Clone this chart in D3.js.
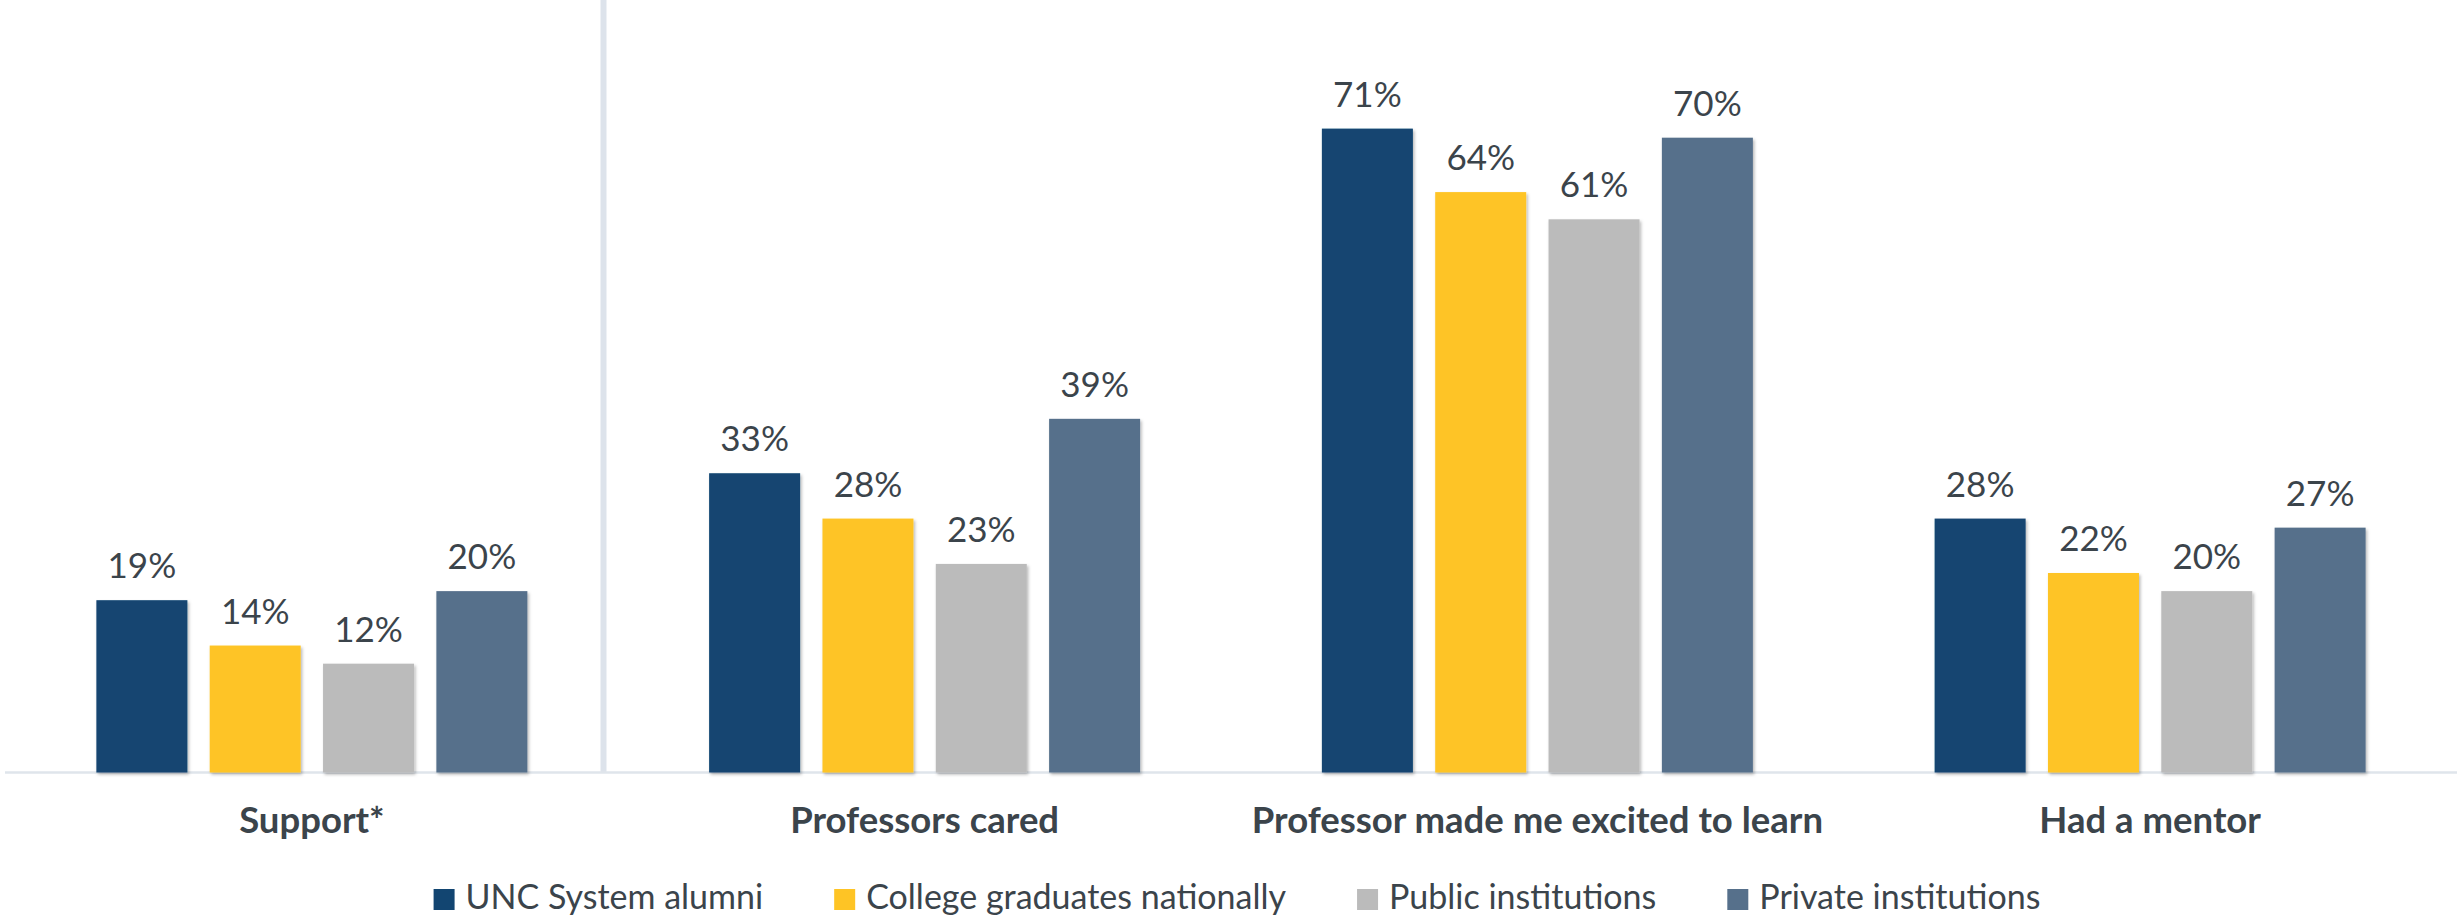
<!DOCTYPE html>
<html>
<head>
<meta charset="utf-8">
<script src="https://cdn.jsdelivr.net/npm/d3@7"></script>
<style>
  html, body { margin: 0; padding: 0; background: #ffffff; }
  svg { display: block; }
  text { font-family: Lato, "Open Sans", sans-serif; fill: #3b444b; }
</style>
</head>
<body>
<svg id="chart" width="2459" height="923"></svg>
<script>
// Survey measures shown along the x axis
const categories = ["Support*", "Professors cared", "Professor made me excited to learn", "Had a mentor"];

// Comparison groups (one bar per group within each measure)
const seriesNames = ["UNC System alumni", "College graduates nationally", "Public institutions", "Private institutions"];

// Percent agreeing, per series, in category order
const uncAlumni        = [19, 33, 71, 28];
const collegeNational  = [14, 28, 64, 22];
const publicInst       = [12, 23, 61, 20];
const privateInst      = [20, 39, 70, 27];

const seriesValues = [uncAlumni, collegeNational, publicInst, privateInst];
const colors = ["#124571", "#fec425", "#bbbbbb", "#56708b"];

const svg = d3.select("#chart");

const baseY = 772.5;
const y = d3.scaleLinear().domain([0, 80]).range([baseY, 47]);

const x0 = d3.scaleBand().domain(categories).range([5.5, 2456.5]).paddingInner(0).paddingOuter(0);
const groupWidth = 431;
const x1 = d3.scaleBand().domain(seriesNames).range([0, groupWidth]).paddingInner(0.197).paddingOuter(0);

// Soft drop shadow under the bars
const defs = svg.append("defs");
const f = defs.append("filter").attr("id", "barShadow")
  .attr("x", "-10%").attr("y", "-10%").attr("width", "125%").attr("height", "125%");
f.append("feDropShadow").attr("dx", 1.5).attr("dy", 2).attr("stdDeviation", 1.5)
  .attr("flood-color", "#000").attr("flood-opacity", 0.28);

// Vertical separator between the first measure and the rest
const dividerX = 603.5;
svg.append("line")
  .attr("x1", dividerX).attr("x2", dividerX)
  .attr("y1", 0).attr("y2", baseY)
  .attr("stroke", "#dde3eb").attr("stroke-width", 6);

// Baseline
svg.append("line")
  .attr("x1", 5).attr("x2", 2457)
  .attr("y1", baseY).attr("y2", baseY)
  .attr("stroke", "#dfe5eb").attr("stroke-width", 2.5);

// Flatten into rows for the bars
const rows = [];
categories.forEach((c, ci) => {
  seriesNames.forEach((s, si) => {
    rows.push({ cat: c, series: s, si: si, value: seriesValues[si][ci] });
  });
});

const groupOffset = c => x0(c) + x0.bandwidth() / 2 - groupWidth / 2;

const bars = svg.append("g").attr("class", "bars");
bars.selectAll("rect")
  .data(rows)
  .join("rect")
  .attr("x", d => groupOffset(d.cat) + x1(d.series))
  .attr("y", d => y(d.value))
  .attr("width", x1.bandwidth())
  .attr("height", d => baseY - y(d.value))
  .attr("fill", d => colors[d.si])
  .attr("filter", "url(#barShadow)");

// Value labels above each bar
svg.append("g").attr("class", "values")
  .selectAll("text")
  .data(rows)
  .join("text")
  .attr("x", d => groupOffset(d.cat) + x1(d.series) + x1.bandwidth() / 2)
  .attr("y", d => y(d.value) - 22)
  .attr("text-anchor", "middle")
  .style("font-size", "35px")
  .text(d => d.value + "%");

// Category axis labels
const xAxis = d3.axisBottom(x0).tickSize(0).tickPadding(0);
const axisG = svg.append("g").attr("transform", `translate(0,${baseY})`).call(xAxis);
axisG.select(".domain").remove();
axisG.selectAll(".tick text")
  .attr("y", 833 - baseY)
  .attr("dy", 0)
  .attr("fill", "#3b444b")
  .style("font-family", "Lato, 'Open Sans', sans-serif")
  .style("font-size", "36.5px")
  .style("font-weight", "700");

// Legend, centred under the plot
const legend = svg.append("g").attr("class", "legend");
const items = legend.selectAll("g").data(seriesNames).join("g");
items.append("rect")
  .attr("width", 21).attr("height", 21)
  .attr("y", 889)
  .attr("fill", (d, i) => colors[i]);
items.append("text")
  .attr("x", 32)
  .attr("y", 909)
  .style("font-size", "34px")
  .text(d => d);

let cursor = 0;
const offsets = [];
items.each(function () {
  offsets.push(cursor);
  const tw = d3.select(this).select("text").node().getComputedTextLength();
  cursor += 32 + tw + 71;
});
const totalW = cursor - 71;
const startX = 1237 - totalW / 2;
items.attr("transform", (d, i) => `translate(${startX + offsets[i]},0)`);
</script>
</body>
</html>
